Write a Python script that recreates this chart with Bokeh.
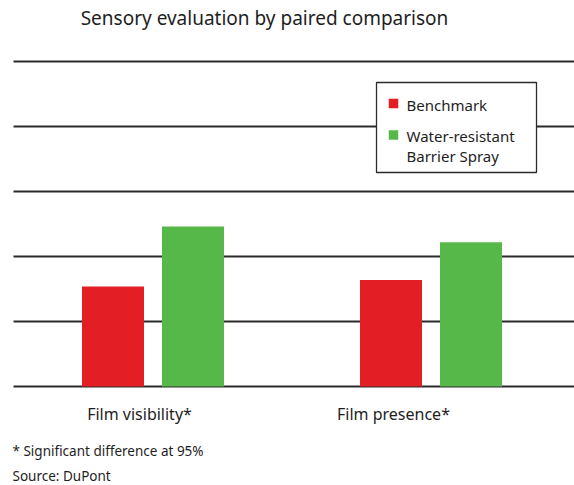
from bokeh.plotting import figure
from bokeh.models import Range1d
from bokeh.core.properties import value
from bokeh.embed import file_html
from bokeh.resources import INLINE

# ---- data ----
title = "Sensory evaluation by paired comparison"
categories = ["Film visibility*", "Film presence*"]
series_names = ["Benchmark", "Water-resistant Barrier Spray"]
benchmark = [1.54, 1.64]
barrier_spray = [2.46, 2.22]
grid_levels = [0, 1, 2, 3, 4, 5]
footnotes = ["* Significant difference at 95%", "Source: DuPont"]

# ---- layout (pixels) ----
W, H = 574, 485
PX_PER_CAT = 278.0
PX_PER_UNIT = 65.0
FIRST_GROUP_PX = 152.5
BASE_PX = 386.0
x_start = 0.5 - FIRST_GROUP_PX / PX_PER_CAT
x_end = x_start + W / PX_PER_CAT
y_end = BASE_PX / PX_PER_UNIT
y_start = -(H - BASE_PX) / PX_PER_UNIT


def X(px):
    return x_start + px / PX_PER_CAT


def Y(py):
    return (BASE_PX - py) / PX_PER_UNIT


FONT = value("Noto Sans")
TXT = "#1e1e1e"
RED = "#e31e24"
GREEN = "#57b84a"
LINE = "#2b2b2b"

p = figure(width=W, height=H, output_backend="svg", toolbar_location=None,
           x_range=Range1d(x_start, x_end), y_range=Range1d(y_start, y_end),
           min_border=0, min_border_left=0, min_border_right=0,
           min_border_top=0, min_border_bottom=0)
p.axis.visible = False
p.grid.visible = False
p.outline_line_color = None
p.background_fill_color = "white"
p.border_fill_color = "white"

# grid lines
p.segment(x0=[X(13)] * len(grid_levels), y0=grid_levels,
          x1=[x_end] * len(grid_levels), y1=grid_levels,
          line_color=LINE, line_width=2)

# bars
offset = 40.0 / PX_PER_CAT
bw = 62.0 / PX_PER_CAT
centers = [i + 0.5 for i in range(len(categories))]
p.vbar(x=[c - offset for c in centers], top=benchmark, bottom=0, width=bw,
       fill_color=RED, line_color=None)
p.vbar(x=[c + offset for c in centers], top=barrier_spray, bottom=0, width=bw,
       fill_color=GREEN, line_color=None)

# title
p.text(x=[X(264)], y=[Y(17)], text=[title], text_font=FONT,
       text_font_size="19px", text_color=TXT, text_align="center",
       text_baseline="middle")

# category labels
label_shift_px = [-13.5, -37.5]
p.text(x=[c + s / PX_PER_CAT for c, s in zip(centers, label_shift_px)],
       y=[Y(413)] * len(categories), text=categories, text_font=FONT,
       text_font_size="16px", text_color=TXT, text_align="center",
       text_baseline="middle")

# footnotes
p.text(x=[X(12)] * len(footnotes), y=[Y(450), Y(475)], text=footnotes,
       text_font=FONT, text_font_size="13.5px", text_color=TXT,
       text_align="left", text_baseline="middle")

# legend
p.quad(left=[X(376)], right=[X(536)], top=[Y(82)], bottom=[Y(172)],
       fill_color="white", line_color=LINE, line_width=1.3)
p.scatter(x=[X(393), X(393)], y=[Y(103), Y(134.5)], marker="square", size=9.5,
          fill_color=[RED, GREEN], line_color=None)
legend_lines = [series_names[0]] + series_names[1].replace("resistant ", "resistant\n").split("\n")
p.text(x=[X(406)] * 3, y=[Y(104), Y(135), Y(155)], text=legend_lines,
       text_font=FONT, text_font_size="15px", text_color=TXT,
       text_align="left", text_baseline="middle")

open("out.html", "w").write(file_html(p, INLINE))
